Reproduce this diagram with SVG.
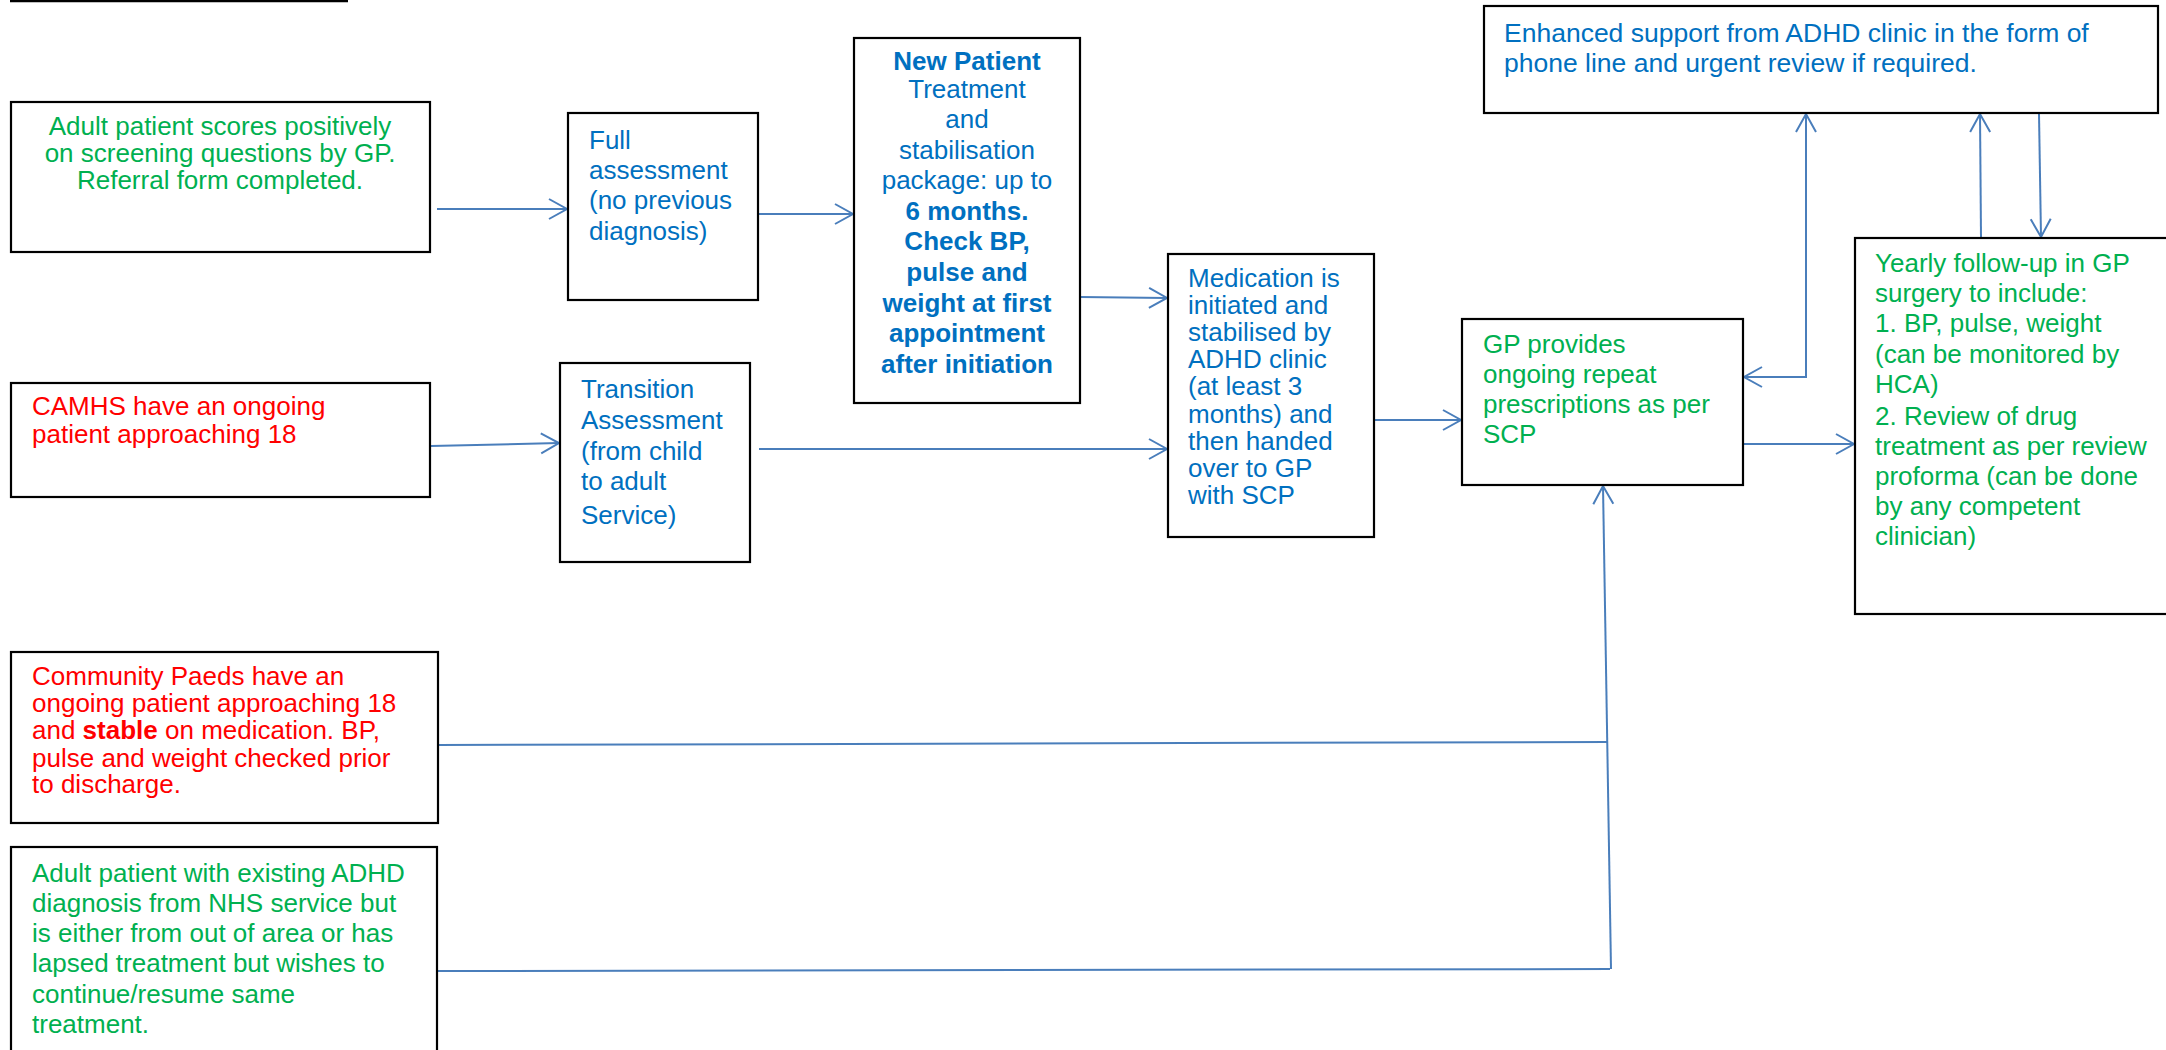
<svg xmlns="http://www.w3.org/2000/svg" width="2166" height="1050" viewBox="0 0 2166 1050">
<style>
.box{fill:#fff;stroke:#000;stroke-width:2.2}
text{font-family:"Liberation Sans",Arial,sans-serif;font-size:26px}
.g{fill:#00B050}.r{fill:#FF0000}.b{fill:#0070C0}
.c{text-anchor:middle}
.bold{font-weight:bold}
.con{fill:none;stroke:#4A7EBB;stroke-width:2}
</style>
<defs>
<marker id="ah" markerUnits="userSpaceOnUse" viewBox="-20 -12 24 24" markerWidth="24" markerHeight="24" refX="0" refY="0" orient="auto-start-reverse">
<path d="M-18,-10 L0,0 L-18,10" fill="none" stroke="#4A7EBB" stroke-width="2"/>
</marker>
</defs>
<rect x="0" y="0" width="2166" height="1050" fill="#fff"/>
<line x1="10" y1="1" x2="348" y2="1" stroke="#000" stroke-width="2.5"/>

<g id="connectors">
<line class="con" x1="437" y1="209" x2="567" y2="209" marker-end="url(#ah)"/>
<line class="con" x1="758" y1="214" x2="853" y2="214" marker-end="url(#ah)"/>
<line class="con" x1="1080" y1="297" x2="1167" y2="298" marker-end="url(#ah)"/>
<line class="con" x1="431" y1="446" x2="559" y2="443" marker-end="url(#ah)"/>
<line class="con" x1="759" y1="449" x2="1167" y2="449" marker-end="url(#ah)"/>
<line class="con" x1="1374" y1="420" x2="1461" y2="420" marker-end="url(#ah)"/>
<line class="con" x1="1743" y1="444" x2="1854" y2="444" marker-end="url(#ah)"/>
<polyline class="con" points="1744,377 1806,377 1806,114" marker-start="url(#ah)" marker-end="url(#ah)"/>
<line class="con" x1="1981" y1="238" x2="1980" y2="114" marker-end="url(#ah)"/>
<line class="con" x1="2039" y1="114" x2="2041" y2="237" marker-end="url(#ah)"/>
<line class="con" x1="438" y1="745" x2="1607" y2="742"/>
<line class="con" x1="438" y1="971" x2="1610" y2="969"/>
<line class="con" x1="1611" y1="969" x2="1603" y2="486" marker-end="url(#ah)"/>
</g>

<g id="adult-screening">
<rect class="box" x="11" y="102" width="419" height="150"/>
<text class="g c"><tspan x="220" y="135">Adult patient scores positively</tspan><tspan x="220" y="162">on screening questions by GP.</tspan><tspan x="220" y="189">Referral form completed.</tspan></text>
</g>

<g id="full-assessment">
<rect class="box" x="568" y="113" width="190" height="187"/>
<text class="b"><tspan x="589" y="149">Full</tspan><tspan x="589" y="179">assessment</tspan><tspan x="589" y="209">(no previous</tspan><tspan x="589" y="240">diagnosis)</tspan></text>
</g>

<g id="new-patient">
<rect class="box" x="854" y="38" width="226" height="365"/>
<text class="b c"><tspan x="967" y="70" class="bold">New Patient</tspan><tspan x="967" y="98">Treatment</tspan><tspan x="967" y="128">and</tspan><tspan x="967" y="159">stabilisation</tspan><tspan x="967" y="189">package: up to</tspan><tspan x="967" y="220" class="bold">6 months.</tspan><tspan x="967" y="250" class="bold">Check BP,</tspan><tspan x="967" y="281" class="bold">pulse and</tspan><tspan x="967" y="312" class="bold">weight at first</tspan><tspan x="967" y="342" class="bold">appointment</tspan><tspan x="967" y="373" class="bold">after initiation</tspan></text>
</g>

<g id="camhs">
<rect class="box" x="11" y="383" width="419" height="114"/>
<text class="r"><tspan x="32" y="415">CAMHS have an ongoing</tspan><tspan x="32" y="443">patient approaching 18</tspan></text>
</g>

<g id="transition">
<rect class="box" x="560" y="363" width="190" height="199"/>
<text class="b"><tspan x="581" y="398">Transition</tspan><tspan x="581" y="429">Assessment</tspan><tspan x="581" y="460">(from child</tspan><tspan x="581" y="490">to adult</tspan><tspan x="581" y="524">Service)</tspan></text>
</g>

<g id="medication">
<rect class="box" x="1168" y="254" width="206" height="283"/>
<text class="b"><tspan x="1188" y="287">Medication is</tspan><tspan x="1188" y="314">initiated and</tspan><tspan x="1188" y="341">stabilised by</tspan><tspan x="1188" y="368">ADHD clinic</tspan><tspan x="1188" y="395">(at least 3</tspan><tspan x="1188" y="423">months) and</tspan><tspan x="1188" y="450">then handed</tspan><tspan x="1188" y="477">over to GP</tspan><tspan x="1188" y="504">with SCP</tspan></text>
</g>

<g id="gp-prescriptions">
<rect class="box" x="1462" y="319" width="281" height="166"/>
<text class="g"><tspan x="1483" y="353">GP provides</tspan><tspan x="1483" y="383">ongoing repeat</tspan><tspan x="1483" y="413">prescriptions as per</tspan><tspan x="1483" y="443">SCP</tspan></text>
</g>

<g id="enhanced-support">
<rect class="box" x="1484" y="6" width="674" height="107"/>
<text class="b" style="font-size:26.5px"><tspan x="1504" y="42">Enhanced support from ADHD clinic in the form of</tspan><tspan x="1504" y="72">phone line and urgent review if required.</tspan></text>
</g>

<g id="yearly-followup">
<rect class="box" x="1855" y="238" width="330" height="376"/>
<text class="g"><tspan x="1875" y="272">Yearly follow-up in GP</tspan><tspan x="1875" y="302">surgery to include:</tspan><tspan x="1875" y="332">1. BP, pulse, weight</tspan><tspan x="1875" y="363">(can be monitored by</tspan><tspan x="1875" y="393">HCA)</tspan><tspan x="1875" y="425">2. Review of drug</tspan><tspan x="1875" y="455">treatment as per review</tspan><tspan x="1875" y="485">proforma (can be done</tspan><tspan x="1875" y="515">by any competent</tspan><tspan x="1875" y="545">clinician)</tspan></text>
</g>

<g id="community-paeds">
<rect class="box" x="11" y="652" width="427" height="171"/>
<text class="r"><tspan x="32" y="685">Community Paeds have an</tspan><tspan x="32" y="712">ongoing patient approaching 18</tspan><tspan x="32" y="739">and <tspan class="bold">stable</tspan> on medication. BP,</tspan><tspan x="32" y="767">pulse and weight checked prior</tspan><tspan x="32" y="793">to discharge.</tspan></text>
</g>

<g id="adult-existing">
<rect class="box" x="11" y="847" width="426" height="220"/>
<text class="g"><tspan x="32" y="882">Adult patient with existing ADHD</tspan><tspan x="32" y="912">diagnosis from NHS service but</tspan><tspan x="32" y="942">is either from out of area or has</tspan><tspan x="32" y="972">lapsed treatment but wishes to</tspan><tspan x="32" y="1003">continue/resume same</tspan><tspan x="32" y="1033">treatment.</tspan></text>
</g>
</svg>
